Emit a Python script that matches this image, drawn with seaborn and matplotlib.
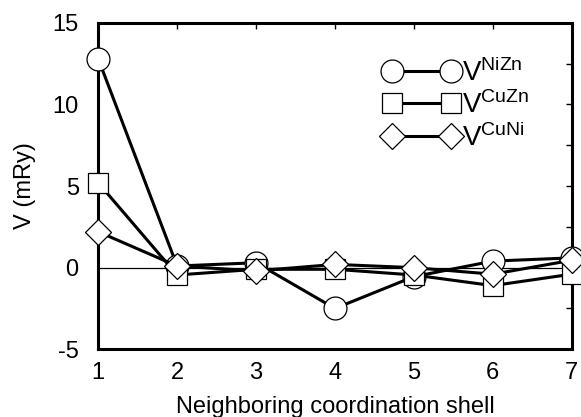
import numpy as np
import pandas as pd
import seaborn as sns
import matplotlib.pyplot as plt
from matplotlib.ticker import MultipleLocator

# Valeurs
shells = [1, 2, 3, 4, 5, 6, 7]
v_nizn = [12.8, 0.1, 0.3, -2.5, -0.55, 0.4, 0.6]
v_cuzn = [5.2, -0.45, -0.1, -0.1, -0.45, -1.1, -0.4]
v_cuni = [2.2, 0.1, -0.2, 0.2, 0.0, -0.4, 0.45]

series = [
    (v_nizn, 'o', 16.5, r'V$^{\mathrm{NiZn}}$'),
    (v_cuzn, 's', 14.5, r'V$^{\mathrm{CuZn}}$'),
    (v_cuni, 'D', 13.5, r'V$^{\mathrm{CuNi}}$'),
]

sns.set_style("white")
plt.rcParams['font.family'] = ['Liberation Sans', 'DejaVu Sans']
plt.rcParams['mathtext.fontset'] = 'custom'
plt.rcParams['mathtext.rm'] = 'Liberation Sans'
plt.rcParams['mathtext.it'] = 'Liberation Sans'
plt.rcParams['axes.unicode_minus'] = False
plt.rcParams['text.color'] = 'black'
plt.rcParams['axes.labelcolor'] = 'black'
plt.rcParams['xtick.color'] = 'black'
plt.rcParams['ytick.color'] = 'black'

fig = plt.figure(figsize=(5.81, 4.17), dpi=100)
ax = fig.add_axes([0.169, 0.1624, 0.815, 0.783])

ax.axhline(0, color='black', lw=0.9, zorder=1)

for values, marker, ms, label in series:
    df = pd.DataFrame({'shell': shells, 'V': values})
    sns.lineplot(data=df, x='shell', y='V', ax=ax, color='black', lw=2.2,
                 marker=marker, markersize=ms, markerfacecolor='white',
                 markeredgecolor='black', markeredgewidth=0.9,
                 label=label, clip_on=False, zorder=3)

ax.set_xlim(1, 7)
ax.set_ylim(-5, 15)
ax.set_xticks(shells)
ax.yaxis.set_major_locator(MultipleLocator(5))
ax.yaxis.set_minor_locator(MultipleLocator(2.5))
ax.tick_params(axis='both', which='both', direction='in', top=True, right=True,
               length=4, width=1, labelsize=17)
ax.tick_params(axis='x', pad=9)
ax.tick_params(axis='y', pad=14)
for s in ax.spines.values():
    s.set_linewidth(2.2)
    s.set_color('black')

ax.set_xlabel('Neighboring coordination shell', fontsize=17, labelpad=9)
ax.set_ylabel('V (mRy)', fontsize=17, labelpad=12)

ax.legend(loc='upper right', bbox_to_anchor=(0.933, 0.925), frameon=False,
          fontsize=20, numpoints=2, handlelength=2.7, handletextpad=0.1,
          labelspacing=0.15, borderaxespad=0)

plt.savefig('out.png', dpi=100)
plt.close()
